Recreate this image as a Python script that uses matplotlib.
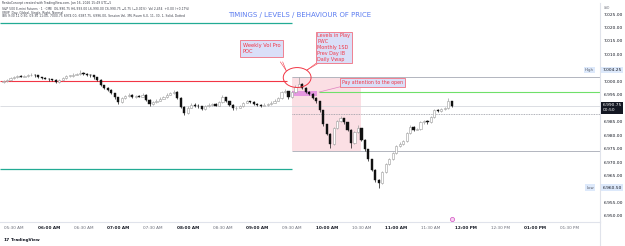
import numpy as np
import matplotlib
matplotlib.use('Agg')
import matplotlib.pyplot as plt
from matplotlib.patches import Rectangle, Ellipse
from matplotlib.transforms import blended_transform_factory

# 3-minute ES futures candles, 05:21 -> 11:48
BAR_START = 321   # minutes after midnight (05:21)
BAR_STEP = 3
FIRST_OPEN = 6999.75

close = [
    7000.0, 7000.5, 7001.25, 7001.5, 7002.0, 7001.75, 7002.0, 7002.25, 7002.5, 7002.25,
    7001.5, 7001.25, 7001.0, 7000.75, 7000.5, 6999.75, 7000.5, 7001.25, 7002.0, 7002.0,
    7002.5, 7002.75, 7003.25, 7002.75, 7002.5, 7002.25, 7001.5, 7000.5, 6998.5, 6997.5,
    6996.75, 6995.5, 6994.0, 6992.25, 6993.75, 6994.5, 6995.0, 6994.0, 6994.5, 6994.25,
    6995.0, 6993.0, 6991.5, 6992.25, 6992.75, 6993.5, 6994.0, 6995.0, 6995.5, 6996.0,
    6993.75, 6990.5, 6988.25, 6990.25, 6991.25, 6991.0, 6990.75, 6989.75, 6990.75, 6991.25,
    6991.5, 6991.0, 6992.25, 6994.0, 6992.5, 6991.25, 6990.0, 6990.25, 6990.75, 6992.0,
    6992.5, 6992.25, 6991.5, 6991.25, 6991.0, 6991.25, 6991.5, 6992.0, 6992.75, 6993.75,
    6996.0, 6996.25, 6994.0, 6996.0, 6998.0, 6999.0, 6997.5, 6996.0, 6995.25, 6993.75,
    6992.5, 6989.25, 6984.0, 6980.5, 6976.75, 6982.5, 6985.25, 6986.25, 6984.75, 6982.0,
    6977.0, 6981.0, 6982.5, 6978.25, 6974.75, 6971.0, 6967.0, 6963.25, 6962.25, 6966.25,
    6969.25, 6971.0, 6973.25, 6976.0, 6976.75, 6977.75, 6980.75, 6983.0, 6982.0, 6982.25,
    6984.75, 6985.25, 6984.75, 6986.75, 6989.25, 6989.0, 6989.75, 6990.0, 6992.5, 6990.75,
]
high = [
    7000.5, 7000.75, 7001.5, 7002.0, 7002.25, 7002.5, 7002.5, 7002.75, 7003.0, 7002.75,
    7002.5, 7001.75, 7001.5, 7001.25, 7001.0, 7000.75, 7000.75, 7001.5, 7002.25, 7002.5,
    7003.0, 7003.25, 7004.25, 7003.5, 7003.25, 7002.75, 7002.5, 7001.75, 7000.75, 6998.75,
    6997.75, 6997.0, 6995.75, 6994.25, 6994.25, 6995.0, 6995.5, 6995.25, 6995.0, 6995.0,
    6995.5, 6995.25, 6993.25, 6992.75, 6993.25, 6994.0, 6994.5, 6995.5, 6996.0, 6996.75,
    6996.25, 6994.0, 6990.75, 6990.75, 6991.75, 6991.75, 6991.5, 6991.0, 6991.25, 6991.75,
    6992.0, 6991.75, 6992.75, 6994.75, 6994.25, 6992.75, 6991.5, 6990.75, 6991.25, 6992.25,
    6993.0, 6992.75, 6992.5, 6991.75, 6991.5, 6991.75, 6992.0, 6992.5, 6993.25, 6994.25,
    6996.5, 6997.25, 6996.5, 6996.5, 6998.5, 7001.5, 6999.5, 6998.0, 6996.5, 6995.5,
    6994.0, 6992.75, 6989.5, 6984.25, 6980.75, 6983.0, 6985.75, 6987.0, 6986.5, 6985.0,
    6982.25, 6981.5, 6983.75, 6982.75, 6978.5, 6975.0, 6971.25, 6967.25, 6963.75, 6966.75,
    6969.75, 6971.5, 6973.75, 6976.5, 6977.5, 6978.25, 6981.25, 6983.75, 6983.25, 6982.75,
    6985.25, 6985.75, 6985.5, 6987.25, 6989.75, 6989.75, 6990.25, 6990.5, 6993.75, 6992.75,
]
low = [
    6999.5, 6999.75, 7000.25, 7001.0, 7001.25, 7001.5, 7001.5, 7001.75, 7002.0, 7001.75,
    7001.25, 7000.75, 7000.75, 7000.25, 7000.0, 6999.25, 6999.5, 7000.25, 7001.0, 7001.5,
    7001.75, 7002.25, 7002.5, 7002.5, 7002.0, 7001.75, 7001.0, 7000.0, 6998.25, 6997.0,
    6996.25, 6995.25, 6993.5, 6991.5, 6992.0, 6993.5, 6994.25, 6993.75, 6993.75, 6994.0,
    6994.0, 6992.75, 6991.0, 6991.25, 6992.0, 6992.5, 6993.25, 6993.75, 6994.75, 6995.25,
    6993.5, 6990.0, 6987.5, 6988.0, 6990.0, 6990.5, 6990.25, 6989.25, 6989.5, 6990.5,
    6991.0, 6990.75, 6990.75, 6992.0, 6992.25, 6991.0, 6989.5, 6989.5, 6990.0, 6990.5,
    6991.75, 6991.75, 6991.25, 6990.75, 6990.5, 6990.75, 6991.0, 6991.25, 6991.75, 6992.5,
    6993.5, 6995.75, 6993.5, 6993.75, 6995.75, 6997.75, 6997.0, 6995.5, 6995.0, 6993.25,
    6992.0, 6988.75, 6983.5, 6980.0, 6975.25, 6976.5, 6982.25, 6985.0, 6984.25, 6981.5,
    6975.25, 6976.75, 6980.75, 6977.75, 6974.25, 6970.5, 6966.5, 6962.75, 6960.5, 6962.0,
    6966.0, 6969.0, 6970.75, 6973.0, 6975.5, 6976.5, 6977.5, 6980.5, 6981.5, 6981.75,
    6982.0, 6984.0, 6984.25, 6984.5, 6986.5, 6988.5, 6988.75, 6989.5, 6989.75, 6990.5,
]

# levels drawn on the chart
TEAL_TOP = 7021.75
TEAL_BOT = 6967.5
RED_LVL = 7000.25
GREEN_LVL = 6996.0
IB_HIGH = 7001.5
IB_LOW = 6974.0
LAST = 6990.75
DOTTED_LVL = 6987.75
DAY_HIGH = 7004.25
DAY_LOW = 6960.50
OPEN_T = 570       # 09:30
IB_END_T = 630     # 10:30

time_ticks = list(range(330, 811, 30))
time_labels = ['05:30 AM', '06:00 AM', '06:30 AM', '07:00 AM', '07:30 AM', '08:00 AM',
               '08:30 AM', '09:00 AM', '09:30 AM', '10:00 AM', '10:30 AM', '11:00 AM',
               '11:30 AM', '12:00 PM', '12:30 PM', '01:00 PM', '01:30 PM']
# 7005 / 6990 / 6960 sit under the High / last / Low labels
price_ticks = [7025, 7020, 7015, 7010, 7000, 6995, 6985, 6980, 6975, 6970, 6965, 6955, 6950]

RED = '#f23645'
TEAL = '#22ab94'
GRID = '#e0e3eb'
BOX_FC = '#dadff8'

W, H = 625, 246
fig = plt.figure(figsize=(W / 100, H / 100), dpi=100)
ax = fig.add_axes([0, 1 - 222 / H, 600 / W, 219 / H])
ax.set_xlim(317.9, 836.0)
ax.set_ylim(6947.7, 7029.1)

c = np.array(close)
hi = np.array(high)
lo = np.array(low)
o = np.r_[FIRST_OPEN, c[:-1]]
t = BAR_START + BAR_STEP * np.arange(len(c))
up = c >= o

# background levels / zones
ax.add_patch(Rectangle((OPEN_T, IB_LOW), IB_END_T - OPEN_T, IB_HIGH - IB_LOW,
                       facecolor='#fbdfe4', edgecolor='none', zorder=0.5))
ax.hlines(TEAL_TOP, 317.9, OPEN_T, color=TEAL, lw=0.9, zorder=1)
ax.hlines(TEAL_BOT, 317.9, OPEN_T, color=TEAL, lw=0.9, zorder=1)
ax.hlines(RED_LVL, 317.9, 566, color=RED, lw=0.8, zorder=1)
ax.hlines([IB_HIGH, IB_LOW], OPEN_T, 836, color='#b2b5be', lw=0.7, zorder=1)
ax.hlines(GREEN_LVL, 593, 836, color='#6fe06a', lw=0.8, zorder=1)
ax.hlines(LAST, 317.9, 836, color='#d6d8de', lw=0.6, zorder=1)
ax.hlines(DOTTED_LVL, OPEN_T, 836, color='#9598a1', lw=0.6, linestyles=(0, (1, 1)), zorder=1)
ax.add_patch(Rectangle((OPEN_T, 6994.5), 22, 1.8, facecolor='#e080e0', alpha=0.75,
                       edgecolor='none', zorder=1.5))

# candles
body_lo = np.minimum(o, c)
body_h = np.maximum(np.abs(c - o), 0.2)
ax.vlines(t[up], lo[up], hi[up], color='#9c9c9c', lw=0.5, zorder=3)
ax.vlines(t[~up], lo[~up], hi[~up], color='#111111', lw=0.5, zorder=3)
ax.bar(t[up], body_h[up], bottom=body_lo[up], width=1.9, facecolor='white',
       edgecolor='#9c9c9c', linewidth=0.4, zorder=4)
ax.bar(t[~up], body_h[~up], bottom=body_lo[~up], width=1.9, facecolor='#111111',
       edgecolor='#111111', linewidth=0.3, zorder=4)

# annotations
ax.add_patch(Ellipse((574.5, 7001.4), 24, 7.4, fill=False, edgecolor=RED, lw=0.7, zorder=6))
ax.plot([560.0, 565.0], [7007.2, 7004.0], color=RED, lw=0.4, zorder=6)
ax.plot([562.0, 565.0], [7007.2, 7004.0], color=RED, lw=0.4, zorder=6)
ax.plot([591.5, 583.0], [7006.9, 7004.2], color=RED, lw=0.4, zorder=6)
ax.plot([593.5, 583.0], [7006.9, 7004.2], color=RED, lw=0.4, zorder=6)
ax.plot([612.0, 593.5], [6998.0, 6996.0], color='#e080c0', lw=0.5, zorder=6)

ax.text(527.5, 7014.2, 'Weekly Vol Pro\nPOC', fontsize=3.7, color=RED, va='top',
        ha='left', linespacing=1.25, zorder=7,
        bbox=dict(boxstyle='square,pad=0.6', facecolor=BOX_FC, edgecolor='#f07080', lw=0.6))
box = dict(boxstyle='square,pad=0.35', facecolor=BOX_FC, edgecolor='#f07080', lw=0.6)
ax.text(592.0, 7017.8, 'Levels in Play\nPWC\nMonthly 1SD\nPrev Day IB\nDaily Vwap',
        fontsize=3.5, color=RED, va='top', ha='left', linespacing=1.2, bbox=box, zorder=7)
ax.text(613.0, 6999.6, 'Pay attention to the open', fontsize=3.4, color=RED, va='center',
        ha='left', bbox=box, zorder=7)

# axes styling
for side in ['top', 'left']:
    ax.spines[side].set_visible(False)
for side in ['right', 'bottom']:
    ax.spines[side].set_color(GRID)
    ax.spines[side].set_linewidth(0.8)
ax.yaxis.tick_right()
ax.set_yticks(price_ticks)
ax.set_yticklabels([f'{p:,.2f}' for p in price_ticks])
ax.tick_params(axis='y', length=0, pad=2.5, labelsize=3.2, labelcolor='#131722')
ax.set_xticks(time_ticks)
ax.set_xticklabels(time_labels)
ax.tick_params(axis='x', length=0, pad=3, labelsize=3.0)
for lab, tt in zip(ax.get_xticklabels(), time_ticks):
    if tt % 60 == 0:
        lab.set_color('#131722')
        lab.set_fontweight('bold')
    else:
        lab.set_color('#6a6d78')
fig.add_artist(plt.Line2D([600 / W, 600 / W], [0, 1 - 222 / H], color=GRID, lw=0.8))

# price-scale labels
tr = blended_transform_factory(ax.transAxes, ax.transData)
lbl_box = dict(boxstyle='square,pad=0.3', facecolor='#dde9fb', edgecolor='none')
ax.text(1.004, DAY_HIGH, '7,004.25', transform=tr, fontsize=3.2, color='#131722',
        va='center', ha='left', clip_on=False, zorder=10, bbox=lbl_box)
ax.text(0.99, DAY_HIGH, 'High', transform=tr, fontsize=2.8, color='#5a5d68',
        va='center', ha='right', zorder=10, bbox=lbl_box)
ax.text(1.004, DAY_LOW, '6,960.50', transform=tr, fontsize=3.2, color='#131722',
        va='center', ha='left', clip_on=False, zorder=10, bbox=lbl_box)
ax.text(0.99, DAY_LOW, 'Low', transform=tr, fontsize=2.8, color='#5a5d68',
        va='center', ha='right', zorder=10, bbox=lbl_box)
ax.text(1.004, LAST + 1.0, '6,990.75\n00:50', transform=tr, fontsize=3.2, color='white',
        va='top', ha='left', linespacing=1.3, clip_on=False, zorder=10,
        bbox=dict(boxstyle='square,pad=0.35', facecolor='#131722', edgecolor='none'))
fig.text(604 / W, 1 - 8 / H, 'USD', fontsize=2.2, color='#6a6d78', va='center')

# event icon on time axis
ax.plot([708], [6948.9], marker='o', ms=3, mfc='#f9d2f3', mec='#d050c0', mew=0.5,
        clip_on=False, zorder=8)

# header text
hdr = [
    (3, 'RenkoConcept created with TradingView.com, Jan 16, 2026 15:49 UTC\u22125'),
    (9, 'S&P 500 E-mini Futures \u00b7 1 \u00b7 CME  O6,990.75 H6,993.00 L6,990.00 '
        'C6,990.75 \u22120.75 (\u22120.01%)  Vol 2,454  +0.00 (+0.17%)'),
    (13, 'VRVP  Day, Global, Single, Right, Normal'),
    (16, 'IBS 9:30 11 0:30, 09:30 11:00, 7000.75 6974.00, 6987.75, 6996.00, '
         'Session Vol, 3M, Rsum 6,0, 11, 30, 1, Solid, Dotted'),
]
for y, s in hdr:
    fig.text(2 / W, 1 - y / H, s, fontsize=2.2, color='#3a3d48', va='center', ha='left')

fig.text(228 / W, 1 - 15 / H, 'TIMINGS / LEVELS / BEHAVIOUR OF PRICE', color='#5b7cf0',
         fontsize=5.0, va='center', ha='left')

fig.text(4 / W, 1 - 240 / H, '17', fontsize=3.2, fontweight='bold', color='#131722',
         va='center', ha='left')
fig.text(11 / W, 1 - 240 / H, 'TradingView', fontsize=3.0, fontweight='bold',
         color='#131722', va='center', ha='left')

fig.savefig('out.png', dpi=100, facecolor='white')
